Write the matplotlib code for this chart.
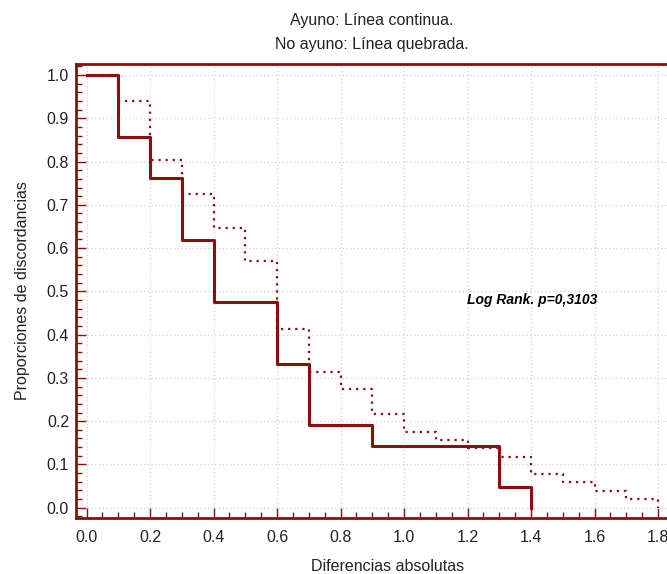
import matplotlib
matplotlib.use("Agg")
import matplotlib.pyplot as plt
from matplotlib.ticker import MultipleLocator

# Data (step survival-type curves)
x_ayuno = [0.0, 0.1, 0.2, 0.3, 0.4, 0.6, 0.7, 0.9, 1.3, 1.4]
y_ayuno = [1.0, 0.857, 0.762, 0.619, 0.476, 0.333, 0.190, 0.143, 0.048, 0.0]

x_no_ayuno = [0.0, 0.1, 0.2, 0.3, 0.4, 0.5, 0.6, 0.7, 0.8, 0.9,
              1.0, 1.1, 1.2, 1.3, 1.4, 1.5, 1.6, 1.7, 1.8]
y_no_ayuno = [1.0, 0.941, 0.804, 0.725, 0.647, 0.569, 0.412, 0.314, 0.275, 0.216,
              0.176, 0.157, 0.137, 0.118, 0.078, 0.059, 0.039, 0.020, 0.0]

title_lines = ["Ayuno: Línea continua.", "No ayuno: Línea quebrada."]
annot = "Log Rank. p=0,3103"

red = "#8B0F0F"
plt.rcParams["font.family"] = ["Liberation Sans", "DejaVu Sans"]

fig = plt.figure(figsize=(6.67, 5.74), dpi=100)
W, H = 667, 574
left, right, top, bottom = 76, 700, 64, 518
ax = fig.add_axes([left / W, 1 - bottom / H, (right - left) / W, (bottom - top) / H])

# x scale: 0 at px 86.5, 317.5 px per unit; y: 0 at px 507.7, 432.7 px per unit
ax.set_xlim(-(86.5 - left) / 317.5, (right - 86.5) / 317.5)
ax.set_ylim(-(bottom - 507.7) / 432.7, (507.7 - top) / 432.7)

ax.step(x_no_ayuno, y_no_ayuno, where="post", color=red, lw=1.6, ls=(0, (1, 2.2)), zorder=3)
ax.step(x_ayuno, y_ayuno, where="post", color=red, lw=2.2, zorder=4)

ax.xaxis.set_major_locator(MultipleLocator(0.2))
ax.xaxis.set_minor_locator(MultipleLocator(0.05))
ax.yaxis.set_major_locator(MultipleLocator(0.1))
ax.yaxis.set_minor_locator(MultipleLocator(0.02))
ax.xaxis.set_major_formatter(lambda v, p: f"{v:.1f}")
ax.yaxis.set_major_formatter(lambda v, p: f"{v:.1f}")

ax.tick_params(which="major", direction="in", length=7, width=1, color=red,
               labelsize=11.5, labelcolor="#222222")
ax.tick_params(axis="y", which="major", pad=5)
ax.tick_params(axis="x", which="major", pad=9)
ax.tick_params(which="minor", direction="in", length=4, width=1, color=red)
ax.tick_params(top=False, right=False, which="both")

ax.grid(True, which="major", color="#d0d0d0", ls=(0, (1, 2)), lw=0.9)

for s in ["left", "bottom", "top"]:
    ax.spines[s].set_color(red)
    ax.spines[s].set_linewidth(2)
ax.spines["right"].set_visible(False)

ax.set_xlabel("Diferencias absolutas", fontsize=11.5, color="#222222", labelpad=10)
ax.set_ylabel("Proporciones de discordancias", fontsize=11.5, color="#222222", labelpad=12)

fig.text(372 / W, 1 - 20 / H, title_lines[0], ha="center", va="center", fontsize=11.5, color="#222222")
fig.text(372 / W, 1 - 45 / H, title_lines[1], ha="center", va="center", fontsize=11.5, color="#222222")

ax.text(1.197, 0.48, annot, fontsize=10, fontweight="bold", fontstyle="italic",
        ha="left", va="center", color="black")

fig.savefig("out.png", dpi=100)
